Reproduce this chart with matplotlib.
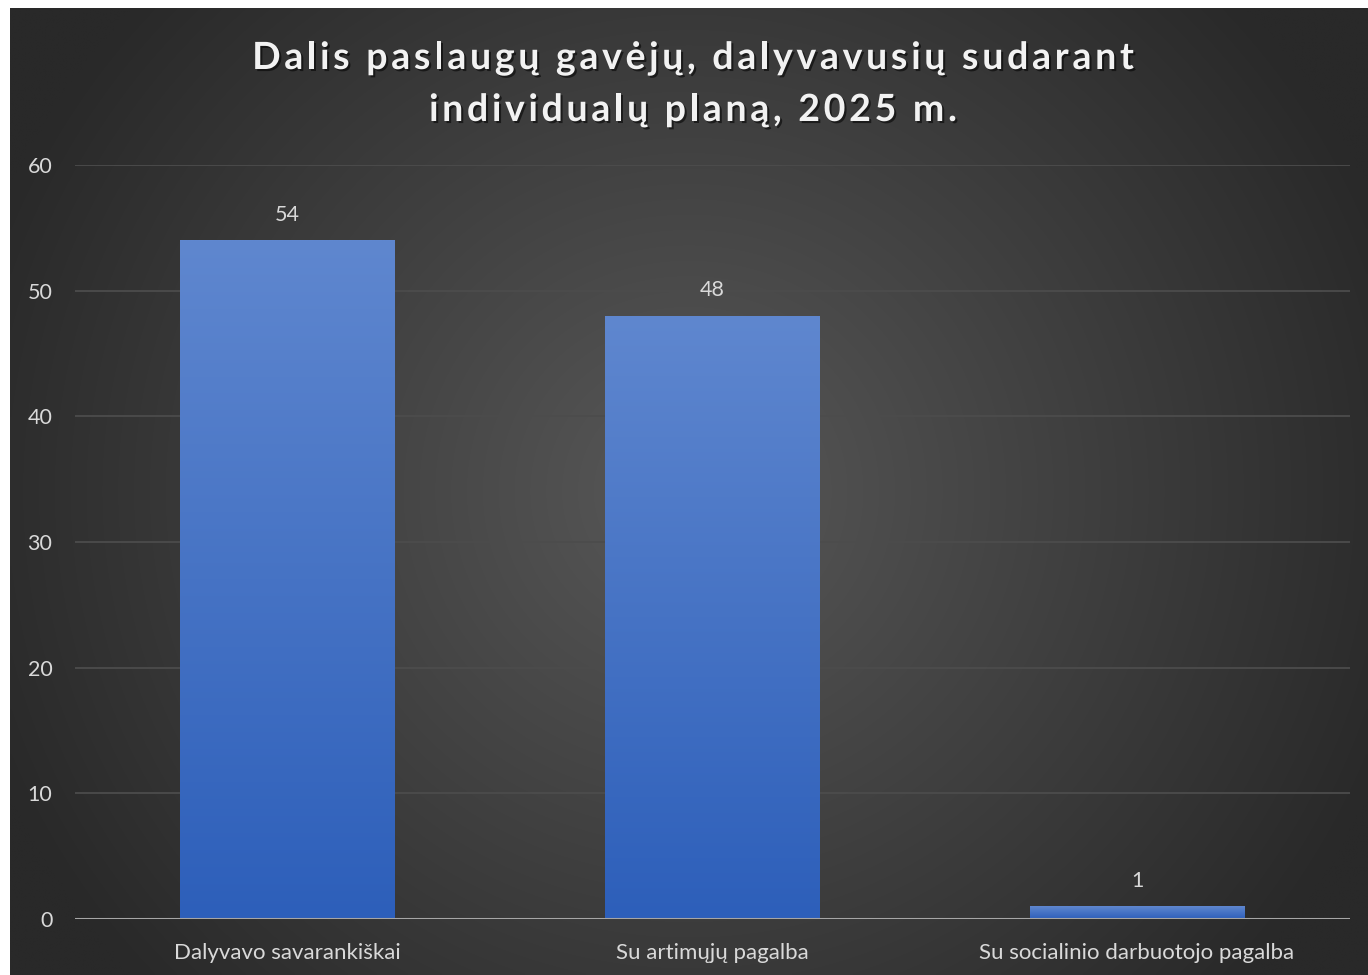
import numpy as np
import matplotlib
matplotlib.use("Agg")
import matplotlib.pyplot as plt
from matplotlib import patheffects
from matplotlib.colors import to_rgb

# Dalyviai pagal tai, kaip sudarė individualų planą
categories = ["Dalyvavo savarankiškai", "Su artimųjų pagalba",
              "Su socialinio darbuotojo pagalba"]
values = [54, 48, 1]
yticks = [0, 10, 20, 30, 40, 50, 60]
title_lines = ["Dalis paslaugų gavėjų, dalyvavusių sudarant",
               "individualų planą, 2025 m."]

W, H = 1368, 975
fig = plt.figure(figsize=(W / 100, H / 100), dpi=100, facecolor="white")

# dark radial background, lighter towards the middle
bg = fig.add_axes([10 / W, 0, 1 - 10 / W, 1 - 8 / H], zorder=-5)
gx, gy = np.meshgrid(np.linspace(0, 1, 400), np.linspace(0, 1, 300))
cx, cy = 0.5, 0.5
r = np.sqrt(((gx - cx) / 0.55) ** 2 + ((gy - cy) / 0.75) ** 2)
r = np.clip(r, 0, 1)
c_in, c_out = np.array(to_rgb("#585858")), np.array(to_rgb("#292929"))
img = c_in[None, None, :] * (1 - r[..., None]) + c_out[None, None, :] * r[..., None]
bg.imshow(img, aspect="auto", extent=[0, 1, 0, 1], interpolation="bilinear")
bg.set_axis_off()

ax = fig.add_axes([74.5 / W, (H - 919) / H, 1275 / W, (919 - 165) / H])
ax.set_facecolor("none")

x = np.arange(len(categories))
bar_w = 0.504
bars = ax.bar(x, values, width=bar_w, color="none", zorder=3)

# vertical gradient fill inside each bar
top_c, bot_c = np.array(to_rgb("#5f87cf")), np.array(to_rgb("#2d5fba"))
grad = np.linspace(0, 1, 256)[:, None, None]
grad_img = top_c * (1 - grad) + bot_c * grad
for b in bars:
    x0, w, h = b.get_x(), b.get_width(), b.get_height()
    im = ax.imshow(grad_img, extent=[x0, x0 + w, 0, h], aspect="auto",
                   zorder=3, interpolation="bilinear")
    im.set_clip_path(b)
    ax.text(x0 + w / 2, h + 1.25, str(h), ha="center", va="bottom",
            fontsize=15.5, color="#d9d9d9", family="Lato", zorder=4)

ax.set_xlim(-0.5, len(categories) - 0.5)
ax.set_ylim(0, 60)
ax.set_yticks(yticks)
ax.set_xticks(x)
ax.set_xticklabels(categories)
ax.grid(axis="y", color="#4c4c4c", linewidth=1.3, zorder=0)
ax.axhline(0, color="#a6a6a6", linewidth=2.2, zorder=5)
for s in ax.spines.values():
    s.set_visible(False)
ax.tick_params(length=0, labelsize=15.5, labelcolor="#d9d9d9")
ax.tick_params(axis="x", labelsize=16, pad=17)
ax.tick_params(axis="y", pad=16)
for lab in ax.get_xticklabels() + ax.get_yticklabels():
    lab.set_family("Lato")

# title with letter spacing, drawn one character at a time
renderer = fig.canvas.get_renderer()
title_kw = dict(fontsize=27, fontweight="bold", family="Lato", color="#f2f2f2")
shadow = [patheffects.withSimplePatchShadow(offset=(1.5, -1.5),
                                            shadow_rgbFace="black", alpha=0.55)]
tracking = 3.7
center_x = 693
baselines = [69, 121]


def text_width(s):
    t = fig.text(0, 0, s, **title_kw)
    w = t.get_window_extent(renderer).width
    t.remove()
    return w


for line, base in zip(title_lines, baselines):
    offsets = [text_width(line[:i]) if i else 0.0 for i in range(len(line))]
    total = text_width(line) + tracking * (len(line) - 1)
    left = center_x - total / 2
    for i, ch in enumerate(line):
        if ch == " ":
            continue
        px = left + offsets[i] + tracking * i
        fig.text(px / W, 1 - base / H, ch, ha="left", va="baseline",
                 path_effects=shadow, **title_kw)

fig.savefig("out.png", dpi=100, facecolor=fig.get_facecolor())
